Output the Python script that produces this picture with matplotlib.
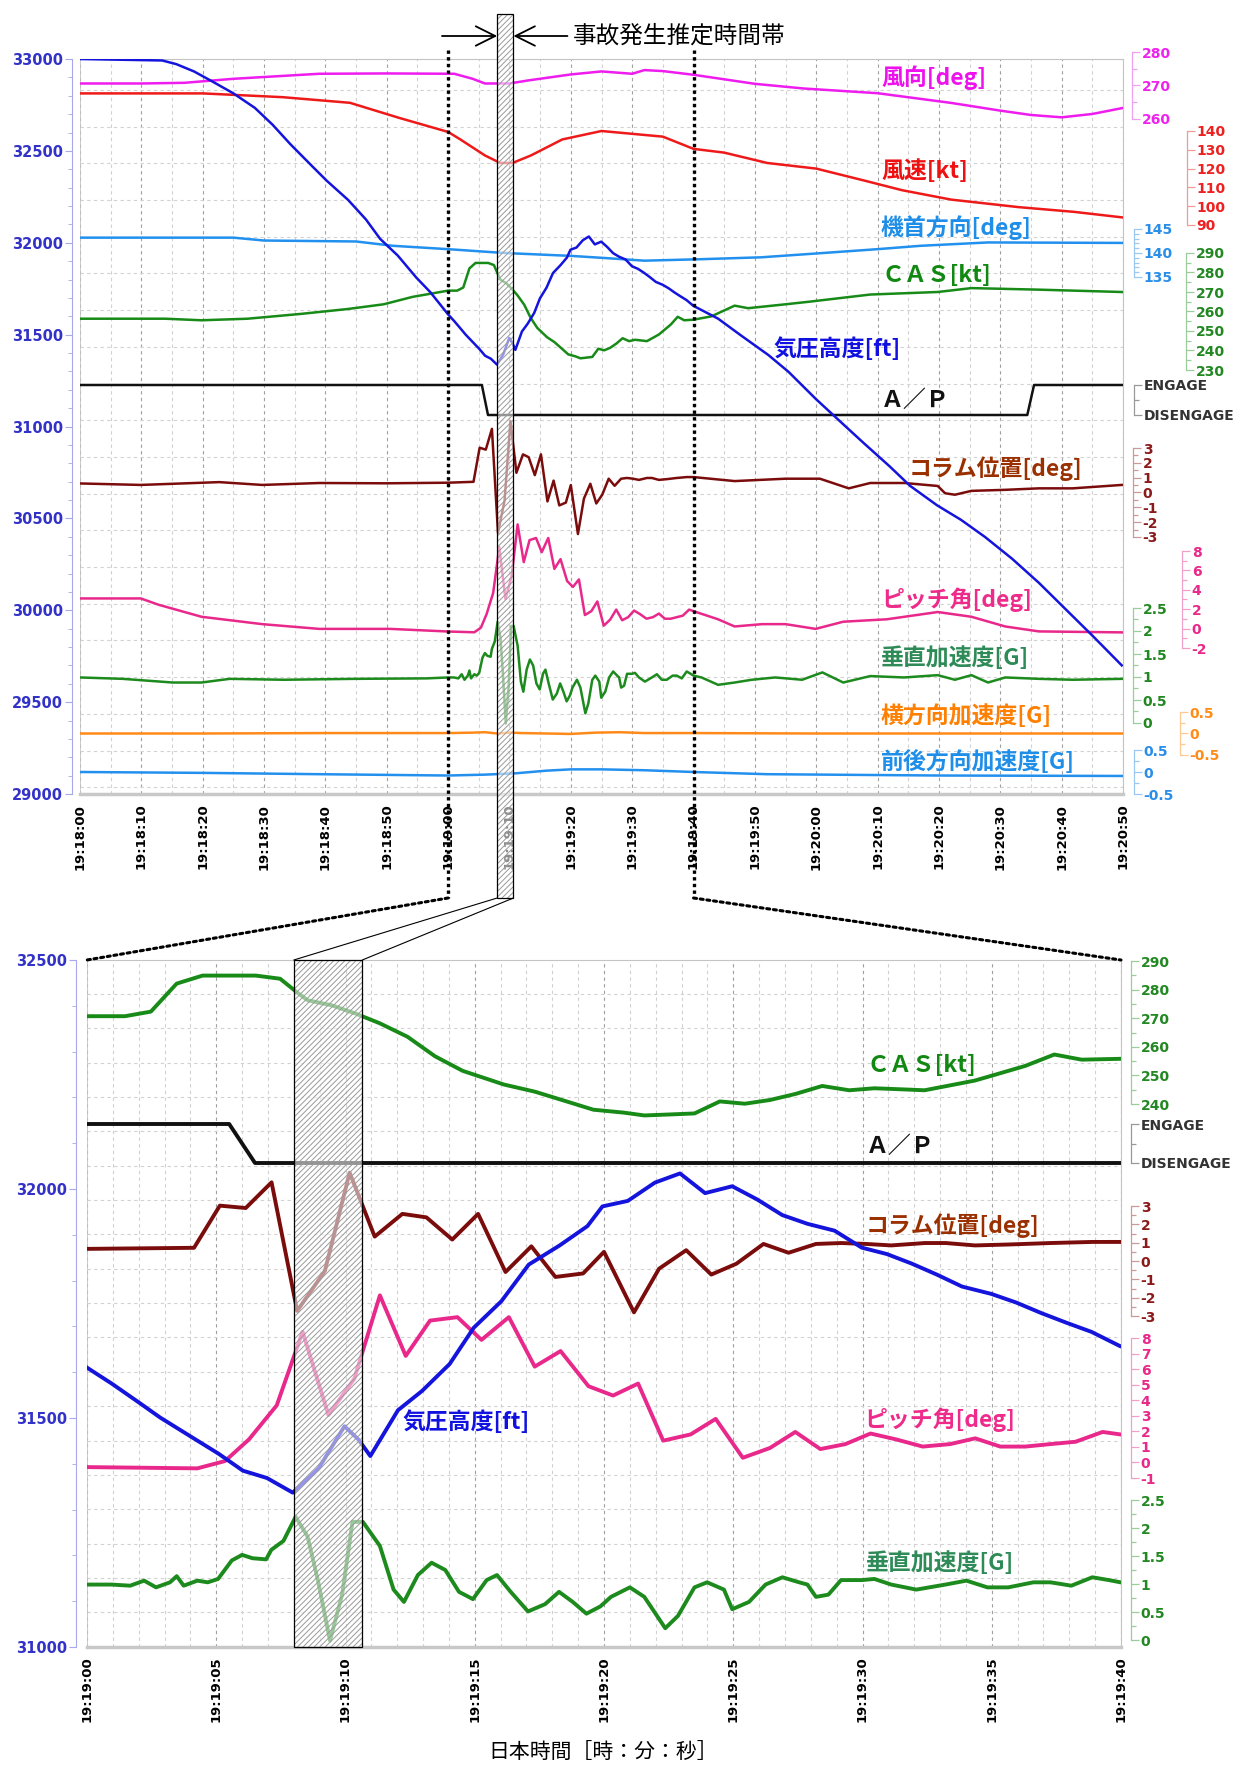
import numpy as np
import matplotlib
matplotlib.use("Agg")
import matplotlib.pyplot as plt
from matplotlib import transforms
from matplotlib.patches import Rectangle, FancyArrowPatch, ConnectionPatch
from matplotlib.lines import Line2D

plt.rcParams['axes.unicode_minus'] = False
plt.rcParams['hatch.linewidth'] = 0.7
plt.rcParams['font.family'] = ['DejaVu Sans']
JP = ['Noto Sans CJK JP', 'DejaVu Sans']

# ---------------- data (time = seconds after 19:18:00) ----------------
top_xticks = list(range(0, 171, 10))
top_xlabels = ['19:18:00', '19:18:10', '19:18:20', '19:18:30', '19:18:40', '19:18:50',
               '19:19:00', '19:19:10', '19:19:20', '19:19:30', '19:19:40', '19:19:50',
               '19:20:00', '19:20:10', '19:20:20', '19:20:30', '19:20:40', '19:20:50']
bot_xticks = list(range(60, 101, 5))
bot_xlabels = ['19:19:00', '19:19:05', '19:19:10', '19:19:15', '19:19:20',
               '19:19:25', '19:19:30', '19:19:35', '19:19:40']

alt_t = [0, 13.4, 15.7, 18.6, 21.5, 25.0, 28.5, 31.4, 34.3, 37.8, 40.2, 43.7, 46.6, 48.9, 51.8, 54.8, 57.1,
         60.0, 60.96, 62.03, 62.83, 64.03, 65.09, 66.03, 66.96, 67.96, 68.96,
         69.96, 70.5, 70.96, 72.03, 72.96, 74.03, 74.96, 76.03, 77.09, 78.29,
         79.36, 79.94, 80.92, 81.97, 82.94, 83.91, 84.96, 85.93, 86.9, 87.87,
         88.92, 89.97, 90.94, 91.91, 92.88, 93.85, 94.98, 95.95, 96.92, 97.89,
         98.86, 99.96,
         104.0, 107.8, 112.2, 115.5, 119.9, 123.3, 127.6, 132.0, 135.3, 139.7,
         143.6, 147.5, 151.9, 156.3, 160.7, 165.1, 169.8]
alt_v = [33000, 32992, 32972, 32932, 32879, 32813, 32734, 32642, 32536, 32418, 32338, 32233, 32127, 32022, 31930, 31811, 31731,
         31610, 31575, 31533, 31501, 31459, 31422, 31385, 31369, 31337, 31390,
         31482, 31453, 31417, 31517, 31559, 31618, 31697, 31755, 31835, 31877,
         31919, 31962, 31974, 32014, 32034, 31991, 32006, 31977, 31943, 31924,
         31909, 31872, 31858, 31837, 31813, 31787, 31771, 31752, 31729, 31708,
         31688, 31657,
         31587, 31494, 31389, 31297, 31151, 31046, 30914, 30782, 30677, 30571,
         30492, 30399, 30281, 30149, 30004, 29859, 29700]

wd_t = [0, 10, 17, 25, 39, 50, 61, 64, 66, 70, 73, 80, 85, 90, 92, 95, 100, 110, 118, 130, 142, 150, 155, 160, 165, 170]
wd_v = [270.6, 270.6, 270.8, 272.0, 273.5, 273.6, 273.5, 272.0, 270.6, 270.6, 271.5, 273.3, 274.2, 273.5, 274.6,
        274.3, 273.2, 270.5, 269.1, 267.7, 264.8, 262.5, 261.2, 260.5, 261.5, 263.3]

ws_t = [0, 20, 33, 44, 52, 60, 62, 66, 68.5, 70.5, 73.5, 78.6, 85, 90, 95, 100, 105, 112, 120, 128, 134, 142, 153, 162, 170]
ws_v = [160, 160, 158, 155, 147, 139.5, 135.5, 127, 123, 123, 127, 135.5, 140, 138.5, 137, 130.5, 128.5, 123, 120,
        113.5, 108.5, 103.5, 99.5, 97, 94]

hd_t = [0, 25, 30, 45, 51, 60, 68, 71, 80, 85, 92, 101, 111, 120, 130, 137, 148, 170]
hd_v = [143.2, 143.2, 142.6, 142.4, 141.5, 140.8, 140.1, 139.9, 139.4, 139.0, 138.4, 138.7, 139.1, 139.9, 140.8,
        141.5, 142.2, 142.1]

cas_t = [0, 13.9, 19.8, 27.3, 36.1, 43.7, 49.5, 54.2,
         60.0, 61.47, 62.47, 63.47, 64.47, 66.53, 67.47, 68.13, 68.53, 69.47,
         70.4, 70.67, 71.33, 72.4, 73.46, 74.53, 76.13, 77.33, 78.66, 79.59,
         80.75, 81.56, 82.7, 83.5, 84.48, 85.45, 86.42, 87.4, 88.44, 89.49,
         90.46, 91.6, 92.4, 93.38, 94.35, 95.0, 96.29, 97.42, 98.48, 99.98,
         102.9, 106.7, 108.9, 115, 118.8, 128.8, 139.8, 145.3, 156.3, 169.8]
cas_v = [256.3, 256.3, 255.5, 256.3, 258.8, 261.3, 263.7, 267.5,
         270.7, 270.7, 272.3, 282.1, 284.9, 284.9, 283.8, 279.0, 276.3, 274.5,
         271.6, 270.6, 268.2, 263.5, 256.7, 251.6, 246.8, 244.3, 240.6, 238.0,
         237.0, 236.0, 236.4, 236.7, 240.9, 240.1, 241.4, 243.5, 246.3, 244.8,
         245.5, 245.1, 244.8, 246.5, 248.2, 249.9, 253.3, 257.3, 255.5, 255.8,
         257.5, 263.0, 261.7, 263.7, 265.0, 268.7, 270.0, 272.0, 271.2, 270.0]

ap_t = [0, 65.5, 66.5, 154.4, 155.5, 170]
ap_v = [1, 1, 0, 0, 1, 1]

col_t = [0, 9.9, 22.7, 29.7, 39.0, 50.0, 59.9,
         64.14, 65.14, 66.14, 67.14, 68.13, 69.2, 70.16, 71.13, 72.2, 73.13,
         74.13, 75.13, 76.19, 77.19, 78.12, 79.19, 80.0, 81.16, 82.13, 83.18,
         84.15, 85.12, 86.17, 87.14, 88.2, 89.17, 90.14, 91.11, 92.41, 93.22,
         94.35, 95.65, 97.27, 98.89, 100.0,
         106.7, 115.0, 120.6, 125.3, 128.8, 134.4, 139.8, 141.0, 142.6, 145.3,
         150.8, 156.3, 161.8, 169.8]
col_v = [0.61, 0.51, 0.70, 0.51, 0.64, 0.62, 0.66,
         0.72, 3.02, 2.89, 4.29, -2.72, -0.55, 4.82, 1.33, 2.57, 2.38,
         1.17, 2.57, -0.60, 0.80, -0.87, -0.68, 0.50, -2.80, -0.42, 0.59,
         -0.74, -0.15, 0.93, 0.45, 0.93, 0.98, 0.93, 0.85, 0.98, 0.98,
         0.85, 0.90, 0.98, 1.04, 1.04,
         0.77, 0.93, 0.93, 0.28, 0.64, 0.64, 0.44, -0.05, -0.15, 0.11,
         0.18, 0.28, 0.28, 0.51]

pit_t = [0, 9.9, 12.8, 19.8, 29.7, 39.0, 50.6, 60.0,
         64.27, 65.34, 66.27, 67.34, 68.34, 69.34, 70.34, 71.33, 72.33, 73.27,
         74.33, 75.26, 76.32, 77.32, 78.32, 79.4, 80.35, 81.32, 82.29, 83.35,
         84.32, 85.37, 86.42, 87.4, 88.37, 89.34, 90.31, 91.28, 92.33, 93.39,
         94.36, 95.33, 96.3, 97.27, 98.24, 99.29, 99.98,
         104.0, 106.7, 111.2, 115.0, 119.9, 124.4, 131.5, 139.8, 145.3, 150.8,
         156.3, 169.8]
pit_v = [3.11, 3.11, 2.46, 1.22, 0.46, -0.03, -0.03, -0.3,
         -0.38, 0.09, 1.49, 3.67, 8.40, 3.05, 5.38, 10.74, 6.85, 9.12,
         9.34, 7.88, 9.34, 6.16, 7.16, 4.90, 4.30, 5.07, 1.40, 1.80,
         2.80, 0.30, 0.93, 1.96, 0.86, 1.18, 1.86, 1.49, 1.02, 1.18,
         1.55, 1.02, 1.02, 1.18, 1.33, 1.96, 1.80,
         0.96, 0.22, 0.46, 0.46, -0.03, 0.71, 0.96, 1.71, 1.22, 0.22,
         -0.29, -0.39]

vg_t = [0, 6.95, 15.1, 19.8, 24.4, 33.2, 44.8, 56.5,
        60.0, 60.94, 61.67, 62.21, 62.67, 63.21, 63.47, 63.74, 64.27, 64.67,
        65.07, 65.6, 66.0, 66.4, 66.93, 67.13, 67.6, 68.07, 68.53, 68.93,
        69.4, 69.87, 70.27, 70.67, 71.33, 71.86, 72.26, 72.8, 73.33, 73.86,
        74.39, 74.93, 75.46, 75.86, 76.39, 77.06, 77.72, 78.26, 78.79, 79.32,
        79.86, 80.27, 81.0, 81.56, 82.37, 82.86, 83.5, 83.99, 84.64, 84.96,
        85.61, 86.25, 86.9, 87.55, 87.87, 88.2, 88.68, 89.17, 89.98, 90.46,
        91.11, 92.08, 93.21, 94.02, 94.83, 95.64, 96.61, 97.27, 98.08, 98.89,
        99.53, 99.98,
        101.3, 104.0, 106.7, 109.5, 113.3, 117.7, 121.0, 124.4, 128.8, 134.3,
        139.8, 142.6, 145.3, 148.0, 150.8, 156.3, 161.8, 169.8]
vg_v = [0.99, 0.96, 0.88, 0.88, 0.96, 0.94, 0.96, 0.97,
        0.99, 0.99, 0.97, 1.06, 0.94, 1.03, 1.14, 0.97, 1.06, 1.03,
        1.09, 1.42, 1.52, 1.46, 1.44, 1.61, 1.77, 2.20, 1.85, 1.07,
        -0.01, 0.81, 2.11, 2.11, 1.68, 0.90, 0.68, 1.16, 1.38, 1.25,
        0.86, 0.73, 1.07, 1.16, 0.86, 0.51, 0.64, 0.86, 0.68, 0.47,
        0.60, 0.77, 0.94, 0.77, 0.21, 0.43, 0.94, 1.03, 0.90, 0.55,
        0.68, 0.99, 1.12, 1.03, 0.99, 0.77, 0.81, 1.07, 1.07, 1.09,
        0.99, 0.90, 0.99, 1.06, 0.94, 0.94, 1.03, 1.03, 0.97, 1.12,
        1.07, 1.03,
        0.99, 0.83, 0.88, 0.94, 0.99, 0.94, 1.10, 0.88, 1.02, 0.99,
        1.04, 0.94, 1.04, 0.88, 0.99, 0.96, 0.94, 0.96]

lat_t = [0, 20, 40, 60, 64, 66, 68, 70, 72, 76, 80, 84, 88, 92, 100, 120, 140, 170]
lat_v = [0.0, 0.0, 0.01, 0.01, 0.02, 0.03, 0.0, 0.02, 0.01, 0.0, -0.01, 0.02, 0.03, 0.01, 0.01, 0.0, 0.0, 0.0]

lon_t = [0, 20, 39, 60, 66, 71, 76, 80, 85, 92, 100, 112, 140, 170]
lon_v = [0.0, -0.02, -0.05, -0.08, -0.06, -0.03, 0.03, 0.06, 0.06, 0.04, 0.0, -0.05, -0.08, -0.09]

box_t = (68.0, 70.65)          # estimated accident time band
zoom_t = (60, 100)

# ---------------- figure helpers ----------------
W, H = 1246, 1767
fig = plt.figure(figsize=(W / 100, H / 100), dpi=100)
fig.patch.set_facecolor('white')


def fpos(x0, y0, x1, y1):
    return [x0 / W, 1 - y1 / H, (x1 - x0) / W, (y1 - y0) / H]


def lims(a1, a2, ptop, pbot):
    (v1, p1), (v2, p2) = a1, a2
    k = (v1 - v2) / (p1 - p2)
    return (v1 + (pbot - p1) * k, v1 + (ptop - p1) * k)


def panel(box, xlim, ylim, xt, xl, xminor, yt, yminor, out_pt, grid_p0, grid_dp):
    x0, y0, x1, y1 = box
    ax = fig.add_axes(fpos(*box))
    ax.spines['left'].set_position(('outward', out_pt))
    ax.spines['left'].set_color('#a8a8ec')
    for s in ('top', 'right'):
        ax.spines[s].set_color('#c4c4c4')
    ax.spines['bottom'].set_color('#c8c8c8')
    ax.spines['bottom'].set_linewidth(2.5)
    ax.set_xlim(*xlim)
    ax.set_ylim(*ylim)
    ax.tick_params(axis='x', which='both', length=0, pad=7)
    ax.tick_params(axis='y', which='major', length=5, color='#a8a8ec', labelcolor='#3232c8', pad=1)
    ax.tick_params(axis='y', which='minor', length=3, color='#a8a8ec')
    ax.set_xticks(xt, labels=xl, rotation=90, fontweight='bold', fontsize=9.5)
    ax.set_xticks(xminor, minor=True)
    ax.set_yticks(yt, labels=[str(v) for v in yt], fontweight='bold', fontsize=10.5)
    ax.set_yticks(yminor, minor=True)
    ax.axvline(xlim[0], color='#c4c4c4', lw=1.2)
    ax.grid(axis='x', which='major', color='#a0a0a0', ls=(0, (3, 3)), lw=0.8)
    ax.grid(axis='x', which='minor', color='#d0d0d0', ls=(0, (3, 3)), lw=0.8)
    # horizontal grid
    g = ax.twinx()
    lo, hi = lims((0, grid_p0), (1, grid_p0 + grid_dp), y0, y1)
    g.set_ylim(lo, hi)
    g.set_yticks(np.arange(np.ceil(min(lo, hi)), np.floor(max(lo, hi)) + 1))
    g.tick_params(length=0, labelright=False, labelleft=False)
    for s in g.spines.values():
        s.set_visible(False)
    g.grid(axis='y', color='#d2d2d2', ls=(0, (3, 3)), lw=0.8)
    return ax


def series(ax, box, t, v, color, lw, a1, a2):
    tw = ax.twinx()
    tw.set_ylim(*lims(a1, a2, box[1], box[3]))
    tw.axis('off')
    tw.plot(t, v, color=color, lw=lw, solid_joinstyle='round')
    return tw


def scale(xp, a_top, a_bot, ticks, labels, minor, color, scolor, fs=10):
    (vt, pt), (vb, pb) = a_top, a_bot
    sa = fig.add_axes(fpos(xp - 0.2, pt, xp, pb))
    sa.set_ylim(vb, vt)
    sa.patch.set_visible(False)
    for s in ('left', 'top', 'bottom'):
        sa.spines[s].set_visible(False)
    sa.spines['right'].set_color(scolor)
    sa.spines['right'].set_linewidth(0.9)
    sa.set_xticks([])
    sa.yaxis.tick_right()
    sa.tick_params(axis='y', which='major', length=6, width=0.9, color=scolor, pad=1, right=True, left=False)
    sa.tick_params(axis='y', which='minor', length=3.5, width=0.9, color=scolor, right=True, left=False)
    sa.set_yticks(ticks, labels=labels, fontweight='bold', fontsize=fs, color=color)
    if minor is not None:
        sa.set_yticks(minor, minor=True)
    return sa


def g(v):
    return ['%g' % x for x in v]


# ---------------- top panel ----------------
TB = (80, 59, 1123, 794)
ax1 = panel(TB, (0, 170), (29000, 33000), top_xticks, top_xlabels, list(range(5, 170, 10)),
            list(range(29000, 33001, 500)), list(range(29000, 33001, 100)), 6, 90, 36.7)

lw1 = 1.8
top_specs = [
    # t, v, line colour, anchor1, anchor2, scale x, ticks, minor, label colour, spine colour
    (wd_t, wd_v, '#ee1cee', (280, 52), (260, 119), 1132, [260, 270, 280], [265, 275], '#ee22ee', '#f0a0f0'),
    (ws_t, ws_v, '#ee1a1a', (140, 131), (90, 225), 1187, [90, 100, 110, 120, 130, 140], None, '#ee2020', '#f09a9a'),
    (hd_t, hd_v, '#2290ee', (145, 229), (135, 277), 1134, [135, 140, 145], list(range(136, 145)), '#2a8ee8', '#9cc8f0'),
    (cas_t, cas_v, '#178a17', (290, 253), (230, 370), 1186, list(range(230, 291, 10)), list(range(235, 290, 10)), '#228822', '#9ccc9c'),
    (ap_t, ap_v, '#111111', (1, 385), (0, 415), 1134, None, None, None, None),
    (col_t, col_v, '#7b0c0c', (3, 448), (-3, 537), 1133, [-3, -2, -1, 0, 1, 2, 3], list(np.arange(-2.5, 3, 1)), '#8b1a1a', '#c89a9a'),
    (pit_t, pit_v, '#e8288a', (8, 551), (-2, 648), 1182, [-2, 0, 2, 4, 6, 8], [-1, 1, 3, 5, 7], '#e8288a', '#f0a0c8'),
    (vg_t, vg_v, '#1d8a1d', (2.5, 608), (0, 723), 1133, [0, 0.5, 1, 1.5, 2, 2.5], list(np.arange(0.25, 2.5, 0.5)), '#228822', '#9ccc9c'),
    (lat_t, lat_v, '#ff8a1a', (0.5, 712), (-0.5, 755), 1180, [-0.5, 0, 0.5], [-0.25, 0.25], '#ff8c1a', '#ffc890'),
    (lon_t, lon_v, '#2490ee', (0.5, 750), (-0.5, 794), 1134, [-0.5, 0, 0.5], [-0.25, 0.25], '#2a8ee8', '#9cc8f0'),
]
for t, v, c, a1, a2, xs, tk, mn, lc, sc in top_specs:
    series(ax1, TB, t, v, c, lw1, a1, a2)
    if tk is None:
        scale(xs, (1, a1[1]), (0, a2[1]), [0, 1], ['DISENGAGE', 'ENGAGE'], [0.5], '#333333', '#999999')
    else:
        scale(xs, (tk[-1], a1[1] + (a1[0] - tk[-1]) * (a2[1] - a1[1]) / (a1[0] - a2[0])),
              (tk[0], a2[1] + (a2[0] - tk[0]) * (a2[1] - a1[1]) / (a1[0] - a2[0])),
              tk, g(tk), mn, lc, sc)
series(ax1, TB, alt_t, alt_v, '#1414dc', lw1, (33000, 59), (29000, 794))

# ---------------- bottom panel ----------------
BB = (87, 960, 1121, 1647)
ax2 = panel(BB, zoom_t, (31000, 32500), bot_xticks, bot_xlabels, list(range(61, 100)),
            [31000, 31500, 32000, 32500], list(range(31000, 32501, 100)), 8, 994, 34.35)
lw2 = 2.8
bot_specs = [
    (cas_t, cas_v, '#178a17', (290, 961), (240, 1104), list(range(240, 291, 10)), list(range(245, 290, 10)), '#228822', '#9ccc9c'),
    (ap_t, ap_v, '#111111', (1, 1124), (0, 1163), None, None, None, None),
    (col_t, col_v, '#7b0c0c', (3, 1206), (-3, 1316), [-3, -2, -1, 0, 1, 2, 3], list(np.arange(-2.5, 3, 1)), '#8b1a1a', '#c89a9a'),
    (pit_t, pit_v, '#e8288a', (8, 1338), (-1, 1478), list(range(-1, 9)), None, '#e8288a', '#f0a0c8'),
    (vg_t, vg_v, '#1d8a1d', (2.5, 1500), (0, 1640), [0, 0.5, 1, 1.5, 2, 2.5], list(np.arange(0.25, 2.5, 0.5)), '#228822', '#9ccc9c'),
]
for t, v, c, a1, a2, tk, mn, lc, sc in bot_specs:
    series(ax2, BB, t, v, c, lw2, a1, a2)
    if tk is None:
        scale(1131, (1, a1[1]), (0, a2[1]), [0, 1], ['DISENGAGE', 'ENGAGE'], [0.5], '#333333', '#999999')
    else:
        scale(1131, (tk[-1], a1[1]), (tk[0], a2[1]), tk, g(tk), mn, lc, sc)
series(ax2, BB, alt_t, alt_v, '#1414dc', lw2, (32500, 960), (31000, 1647))

# ---------------- series labels ----------------
lab_kw = dict(fontsize=16.5, fontweight='bold', family=JP, va='center', ha='left')
top_labels = [
    ('風向[deg]', 881, 78, '#ee11ee'), ('風速[kt]', 881, 171, '#ee1111'),
    ('機首方向[deg]', 881, 228, '#1e8ee8'), ('ＣＡＳ[kt]', 881, 275, '#118811'),
    ('気圧高度[ft]', 773, 349, '#1010e0'), ('Ａ／Ｐ', 881, 400, '#111111'),
    ('コラム位置[deg]', 909, 469, '#9a3000'), ('ピッチ角[deg]', 881, 600, '#ee2a8a'),
    ('垂直加速度[G]', 881, 658, '#2e8b57'), ('横方向加速度[G]', 881, 716, '#ff7f00'),
    ('前後方向加速度[G]', 881, 762, '#1e8ee8'),
]
bot_labels = [
    ('ＣＡＳ[kt]', 866, 1065, '#118811'), ('Ａ／Ｐ', 866, 1146, '#111111'),
    ('コラム位置[deg]', 866, 1226, '#9a3000'), ('ピッチ角[deg]', 864, 1420, '#ee2a8a'),
    ('垂直加速度[G]', 866, 1563, '#2e8b57'), ('気圧高度[ft]', 402, 1422, '#1010e0'),
]
for s, x, y, c in top_labels + bot_labels:
    fig.text(x / W, 1 - y / H, s, color=c, **lab_kw)

# ---------------- annotation: time band, dotted zoom lines ----------------
bl1 = transforms.blended_transform_factory(ax1.transData, fig.transFigure)
yf = lambda p: 1 - p / H

# hatched band on top panel (extends above and below axes)
fig.add_artist(Rectangle((box_t[0], yf(898)), box_t[1] - box_t[0], (898 - 14) / H, transform=bl1,
                         facecolor=(1, 1, 1, 0.55), edgecolor='#9a9a9a', hatch='//////', lw=0, zorder=1))
fig.add_artist(Rectangle((box_t[0], yf(898)), box_t[1] - box_t[0], (898 - 14) / H, transform=bl1,
                         fill=False, edgecolor='black', lw=0.9, zorder=1.1))
# hatched band on bottom panel
fig.add_artist(Rectangle((box_t[0], 31000), box_t[1] - box_t[0], 1500, transform=ax2.transData,
                         facecolor=(1, 1, 1, 0.55), edgecolor='#9a9a9a', hatch='//////', lw=0, zorder=1))
fig.add_artist(Rectangle((box_t[0], 31000), box_t[1] - box_t[0], 1500, transform=ax2.transData,
                         fill=False, edgecolor='black', lw=0.9, zorder=1.1))

# dotted vertical lines at zoom limits
for tz in zoom_t:
    fig.add_artist(Line2D([tz, tz], [yf(50), yf(898)], transform=bl1, color='black',
                          lw=2.4, ls=(0, (1, 1)), zorder=2))
# dotted diagonals to the bottom panel corners
for tz in zoom_t:
    fig.add_artist(ConnectionPatch(xyA=(tz, yf(898)), coordsA=bl1, xyB=(tz, 32500), coordsB=ax2.transData,
                                   color='black', lw=2.2, ls=(0, (1, 1.2)), zorder=2))
# thin lines from band to zoomed band
for tb in box_t:
    fig.add_artist(ConnectionPatch(xyA=(tb, yf(898)), coordsA=bl1, xyB=(tb, 32500), coordsB=ax2.transData,
                                   color='black', lw=0.8, zorder=2))

# arrows and title
fig.add_artist(FancyArrowPatch((box_t[0] - 9.0, yf(36)), (box_t[0], yf(36)), transform=bl1,
                               arrowstyle='->,head_length=0.7,head_width=0.35', mutation_scale=20,
                               color='black', lw=1.3, shrinkA=0, shrinkB=0))
fig.add_artist(FancyArrowPatch((box_t[1] + 8.8, yf(36)), (box_t[1], yf(36)), transform=bl1,
                               arrowstyle='->,head_length=0.7,head_width=0.35', mutation_scale=20,
                               color='black', lw=1.3, shrinkA=0, shrinkB=0))
fig.text(573 / W, yf(36), '事故発生推定時間帯', fontsize=17, family=JP, va='center', ha='left')

fig.text(603 / W, yf(1752), '日本時間［時：分：秒］', fontsize=15, family=JP, va='center', ha='center')

fig.savefig('out.png', dpi=100, facecolor='white')
